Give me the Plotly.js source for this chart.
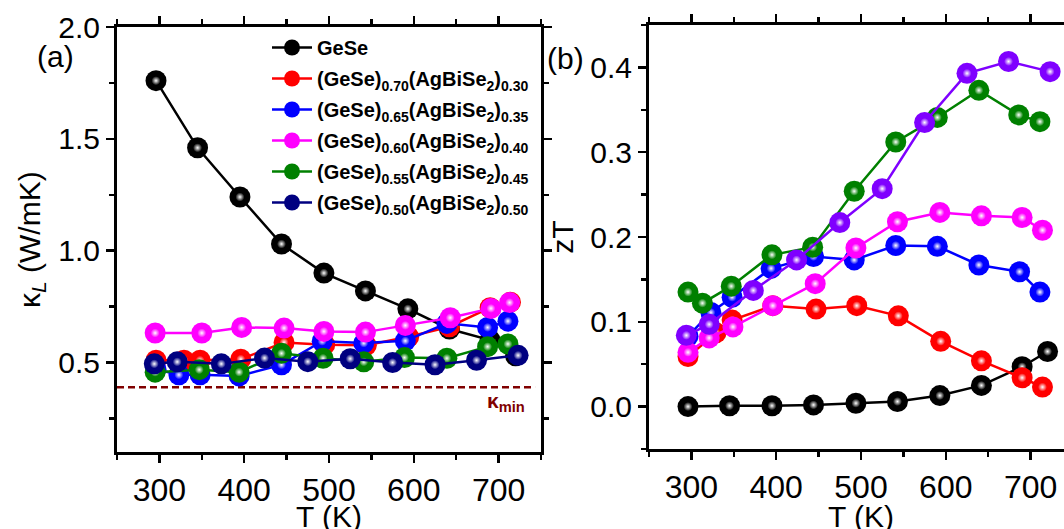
<!DOCTYPE html>
<html>
<head>
<meta charset="utf-8">
<script src="https://cdn.plot.ly/plotly-3.0.1.min.js"></script>
<style>
html, body { margin: 0; padding: 0; overflow: hidden; background: #fff; }
#wrap { width: 1064px; height: 529px; overflow: hidden; position: relative; }
#chart { width: 1090px; height: 545px; }
</style>
</head>
<body>
<div id="wrap"><div id="chart"></div></div>
<script>
// ---------- data ----------
const SERIES_NAMES = [
  "GeSe",
  "(GeSe)<sub>0.70</sub>(AgBiSe<sub>2</sub>)<sub>0.30</sub>",
  "(GeSe)<sub>0.65</sub>(AgBiSe<sub>2</sub>)<sub>0.35</sub>",
  "(GeSe)<sub>0.60</sub>(AgBiSe<sub>2</sub>)<sub>0.40</sub>",
  "(GeSe)<sub>0.55</sub>(AgBiSe<sub>2</sub>)<sub>0.45</sub>",
  "(GeSe)<sub>0.50</sub>(AgBiSe<sub>2</sub>)<sub>0.50</sub>"
];

// temperatures (K)
const T_GESE = [296, 345, 395, 444, 494, 543, 593, 642, 690, 720];
const T_070  = [296, 329, 348, 396, 447, 495, 544, 594, 642, 690, 714];
const T_065  = [296, 323, 348, 394, 444, 492, 541, 590, 639, 687, 711];
const T_060_KL = [295, 350, 397, 447, 494, 543, 590, 643, 691, 713];
const T_060_ZT = [296, 321, 349, 396, 446, 494, 543, 593, 642, 690, 714];
const T_055_KL = [295, 347, 394, 444, 493, 541, 589, 639, 687, 711];
const T_055_ZT = [296, 313, 347, 395, 443, 492, 541, 590, 639, 686, 711];
const T_050  = [294, 321, 373, 424, 475, 525, 575, 625, 674, 723];

// lattice thermal conductivity kappa_L (W/mK)
const KL_GESE = [1.76, 1.46, 1.24, 1.03, 0.90, 0.82, 0.74, 0.65, 0.60, 0.53];
const KL_070  = [0.51, 0.51, 0.51, 0.515, 0.59, 0.58, 0.577, 0.615, 0.66, 0.745, 0.77];
const KL_065  = [0.47, 0.445, 0.445, 0.44, 0.49, 0.595, 0.587, 0.597, 0.675, 0.657, 0.685];
const KL_060  = [0.632, 0.632, 0.657, 0.654, 0.639, 0.636, 0.666, 0.70, 0.742, 0.768];
const KL_055  = [0.457, 0.468, 0.457, 0.541, 0.519, 0.503, 0.522, 0.519, 0.571, 0.583];
const KL_050  = [0.494, 0.503, 0.494, 0.52, 0.504, 0.517, 0.50, 0.49, 0.51, 0.532];
const KAPPA_MIN = 0.39;
const KAPPA_MIN_T = [250, 743];

// figure of merit zT
const ZT_GESE = [0.000, 0.001, 0.001, 0.002, 0.004, 0.006, 0.013, 0.025, 0.047, 0.065];
const ZT_070  = [0.059, 0.087, 0.102, 0.119, 0.115, 0.119, 0.107, 0.077, 0.054, 0.034, 0.023];
const ZT_065  = [0.083, 0.111, 0.129, 0.163, 0.177, 0.173, 0.190, 0.189, 0.167, 0.159, 0.135];
const ZT_060  = [0.064, 0.081, 0.094, 0.119, 0.145, 0.187, 0.218, 0.229, 0.225, 0.223, 0.208];
const ZT_055  = [0.135, 0.122, 0.142, 0.179, 0.188, 0.254, 0.312, 0.341, 0.373, 0.344, 0.336];
const ZT_050  = [0.084, 0.097, 0.137, 0.173, 0.217, 0.257, 0.335, 0.393, 0.407, 0.395];

const COLORS_KL = ["#000000", "#ff0000", "#0000ff", "#ff00ff", "#008000", "#000080"];
const COLORS_ZT = ["#000000", "#ff0000", "#0000ff", "#ff00ff", "#008000", "#7f00ff"];

// ---------- build traces ----------
const FONT = "Liberation Sans, Arial, Helvetica, sans-serif";
const traces = [];
function addSeries(xa, ya, T, V, color, name, showlegend) {
  traces.push({
    x: T, y: V, xaxis: xa, yaxis: ya, type: "scatter", mode: "lines+markers",
    name: "<b>" + name + "</b>", legendgroup: name, showlegend: showlegend,
    line: { color: color, width: 2.5 },
    marker: { size: 21, color: color },
    cliponaxis: false
  });
  traces.push({
    x: T, y: V, xaxis: xa, yaxis: ya, type: "scatter", mode: "markers",
    showlegend: false, hoverinfo: "skip",
    marker: { size: 9, color: color, gradient: { type: "radial", color: "#ffffff" } },
    cliponaxis: false
  });
}

const KL = [[T_GESE, KL_GESE], [T_070, KL_070], [T_065, KL_065], [T_060_KL, KL_060], [T_055_KL, KL_055], [T_050, KL_050]];
const ZT = [[T_GESE, ZT_GESE], [T_070, ZT_070], [T_065, ZT_065], [T_060_ZT, ZT_060], [T_055_ZT, ZT_055], [T_050, ZT_050]];

traces.push({
  x: KAPPA_MIN_T, y: [KAPPA_MIN, KAPPA_MIN], xaxis: "x", yaxis: "y",
  type: "scatter", mode: "lines", showlegend: false, hoverinfo: "skip",
  line: { color: "#800000", width: 2.5, dash: "7px,4px" }
});
KL.forEach((s, i) => addSeries("x", "y", s[0], s[1], COLORS_KL[i], SERIES_NAMES[i], true));
ZT.forEach((s, i) => addSeries("x2", "y2", s[0], s[1], COLORS_ZT[i], SERIES_NAMES[i], false));

// ---------- layout ----------
const W = 1090, H = 545;
const axCommon = {
  showline: true, linecolor: "#000", linewidth: 3, mirror: "ticks",
  ticks: "outside", ticklen: 8, tickwidth: 2.5, tickcolor: "#000",
  showgrid: false, zeroline: false,
  tickfont: { family: FONT, size: 30, color: "#000" }
};
function ax(extra) { return Object.assign(JSON.parse(JSON.stringify(axCommon)), extra); }
const XTICKFONT = { family: FONT, size: 32, color: "#000" };
const TITLEFONT = { family: FONT, size: 30, color: "#000" };

const layout = {
  width: W, height: H,
  margin: { l: 0, r: 0, t: 0, b: 0 },
  paper_bgcolor: "#fff", plot_bgcolor: "#fff",
  font: { family: FONT, color: "#000" },
  showlegend: true,
  xaxis: ax({
    domain: [117 / W, 541 / W], anchor: "y", range: [250, 750],
    tickmode: "linear", tick0: 0, dtick: 100, tickfont: XTICKFONT,
    minor: { dtick: 50, ticks: "outside", ticklen: 5, tickwidth: 2.5, tickcolor: "#000" }
  }),
  yaxis: ax({
    domain: [(H - 452) / H, (H - 27) / H], anchor: "x", range: [0.1, 2.0],
    tickmode: "linear", tick0: 0, dtick: 0.5, tickformat: ".1f",
    minor: { dtick: 0.25, ticks: "outside", ticklen: 5, tickwidth: 2.5, tickcolor: "#000" }
  }),
  xaxis2: ax({
    domain: [649 / W, 1073 / W], anchor: "y2", range: [250, 750],
    tickmode: "linear", tick0: 0, dtick: 100, tickfont: XTICKFONT,
    minor: { dtick: 50, ticks: "outside", ticklen: 5, tickwidth: 2.5, tickcolor: "#000" }
  }),
  yaxis2: ax({
    domain: [(H - 449) / H, (H - 25) / H], anchor: "x2", range: [-0.05, 0.45],
    tickmode: "linear", tick0: 0, dtick: 0.1, tickformat: ".1f",
    minor: { dtick: 0.05, ticks: "outside", ticklen: 5, tickwidth: 2.5, tickcolor: "#000" },
    title: { text: "zT", font: TITLEFONT, standoff: 8 }
  }),
  legend: {
    x: 267 / W, y: (H - 28) / H, xanchor: "left", yanchor: "top",
    bgcolor: "rgba(0,0,0,0)", borderwidth: 0,
    font: { family: FONT, size: 20, color: "#000" },
    tracegroupgap: 2, itemwidth: 40
  },
  annotations: [
    { text: "κ<sub><i>L</i></sub> (W/mK)", xref: "paper", yref: "paper",
      x: 31 / W, y: (H - 240) / H, xanchor: "center", yanchor: "middle",
      textangle: -90, showarrow: false, font: TITLEFONT },
    { text: "T (K)", xref: "paper", yref: "paper",
      x: 329 / W, y: (H - 516) / H, xanchor: "center", yanchor: "middle",
      showarrow: false, font: TITLEFONT },
    { text: "T (K)", xref: "paper", yref: "paper",
      x: 861 / W, y: (H - 516) / H, xanchor: "center", yanchor: "middle",
      showarrow: false, font: TITLEFONT },
    { text: "(a)", xref: "paper", yref: "paper", x: 55 / W, y: (H - 57) / H,
      xanchor: "center", yanchor: "middle", showarrow: false,
      font: { family: FONT, size: 30, color: "#000" } },
    { text: "(b)", xref: "paper", yref: "paper", x: 565 / W, y: (H - 58) / H,
      xanchor: "center", yanchor: "middle", showarrow: false,
      font: { family: FONT, size: 30, color: "#000" } },
    { text: "<b>κ<sub>min</sub></b>", xref: "paper", yref: "paper", x: 527 / W, y: (H - 402) / H,
      xanchor: "right", yanchor: "middle", showarrow: false,
      font: { family: FONT, size: 21, color: "#800000" } }
  ]
};

Plotly.newPlot("chart", traces, layout, { staticPlot: true, displayModeBar: false });
</script>
</body>
</html>
